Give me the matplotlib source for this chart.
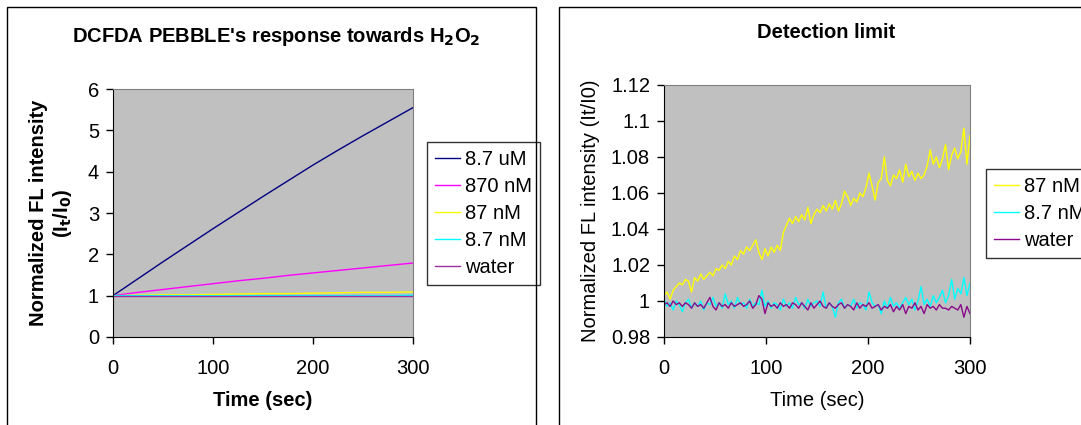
import numpy as np
import matplotlib
matplotlib.use("Agg")
import matplotlib.pyplot as plt
from matplotlib.patches import Rectangle

plt.rcParams["font.family"] = ["Liberation Sans", "DejaVu Sans"]

# ---------------- data: left panel (response towards H2O2) ----------------
t_left = [0, 25, 50, 75, 100, 125, 150, 175, 200, 225, 250, 275, 300]
left_series = ["8.7 uM", "870 nM", "87 nM", "8.7 nM", "water"]
uM_8_7 = [1.0, 1.41, 1.82, 2.22, 2.62, 3.01, 3.40, 3.78, 4.16, 4.52, 4.87, 5.21, 5.55]
nM_870 = [1.0, 1.08, 1.15, 1.22, 1.29, 1.36, 1.42, 1.49, 1.55, 1.61, 1.67, 1.73, 1.79]
nM_87_l = [1.0, 1.01, 1.02, 1.02, 1.03, 1.04, 1.05, 1.05, 1.06, 1.07, 1.08, 1.08, 1.09]
nM_8_7_l = [1.0, 1.0, 1.0, 1.0, 1.0, 1.0, 1.0, 1.0, 1.0, 1.0, 1.0, 1.0, 1.01]
water_l = [1.0, 1.0, 1.0, 1.0, 1.0, 1.0, 1.0, 1.0, 1.0, 1.0, 1.0, 1.0, 1.0]

# ---------------- data: right panel (detection limit), every 3 s ----------------
t_right = list(range(0, 301, 3))
nM_87 = [1.003, 1.005, 1.001, 1.006, 1.008, 1.010, 1.009, 1.012, 1.011, 1.005,
         1.013, 1.011, 1.015, 1.012, 1.014, 1.016, 1.014, 1.018, 1.017, 1.020,
         1.018, 1.022, 1.020, 1.025, 1.023, 1.028, 1.026, 1.030, 1.028, 1.031,
         1.034, 1.027, 1.023, 1.029, 1.025, 1.030, 1.027, 1.031, 1.028, 1.038,
         1.042, 1.046, 1.043, 1.047, 1.044, 1.048, 1.045, 1.052, 1.043, 1.048,
         1.051, 1.049, 1.053, 1.050, 1.054, 1.051, 1.056, 1.050, 1.054, 1.061,
         1.058, 1.053, 1.057, 1.055, 1.060, 1.058, 1.063, 1.071, 1.064, 1.056,
         1.066, 1.068, 1.080, 1.067, 1.064, 1.070, 1.068, 1.073, 1.066, 1.076,
         1.069, 1.072, 1.067, 1.071, 1.068, 1.070, 1.075, 1.084, 1.076, 1.080,
         1.074, 1.079, 1.087, 1.073, 1.081, 1.085, 1.079, 1.083, 1.096, 1.076,
         1.092]
nM_8_7 = [1.001, 0.997, 0.999, 0.995, 1.000, 0.998, 0.994, 0.999, 1.001, 0.996,
          0.999, 0.997, 1.000, 0.995, 0.999, 0.998, 1.002, 0.997, 0.999, 0.996,
          1.004, 0.998, 1.000, 0.996, 1.002, 0.998, 0.999, 0.996, 1.001, 0.997,
          0.999, 0.998, 1.006, 0.997, 1.000, 0.996, 0.999, 0.998, 0.995, 1.001,
          0.997, 0.999, 0.996, 1.002, 0.998, 0.999, 0.996, 1.001, 0.997, 0.999,
          1.000, 0.997, 1.005, 0.996, 0.999, 0.997, 0.991, 0.999, 1.001, 0.996,
          0.998, 0.997, 1.001, 0.996, 0.999, 0.998, 0.995, 1.005, 0.999, 0.997,
          0.998, 0.993, 1.000, 0.996, 1.002, 0.997, 0.999, 0.996, 0.999, 1.002,
          0.998, 1.001, 0.995, 1.000, 1.008, 0.998, 1.001, 0.997, 1.003, 0.999,
          1.002, 1.006, 0.999, 1.003, 1.012, 1.001, 1.007, 1.004, 1.013, 1.003,
          1.010]
water = [0.998, 0.999, 0.997, 1.000, 0.998, 0.999, 0.997, 0.999, 0.998, 0.996,
         0.999, 0.997, 0.998, 0.996, 0.999, 1.002, 0.997, 0.995, 0.999, 0.997,
         0.998, 0.996, 0.999, 0.997, 0.998, 0.999, 0.997, 0.998, 1.000, 0.996,
         0.998, 1.003, 1.001, 0.993, 0.999, 0.997, 0.998, 0.996, 0.999, 0.997,
         0.998, 0.996, 0.999, 0.998, 0.996, 0.999, 0.997, 0.995, 0.999, 0.996,
         0.998, 1.000, 0.997, 0.996, 0.999, 0.997, 0.996, 0.998, 0.999, 0.996,
         0.998, 0.997, 0.995, 0.999, 0.996, 0.998, 0.997, 0.999, 0.996, 0.997,
         0.998, 0.995, 0.997, 0.996, 0.998, 0.994, 0.997, 0.995, 0.998, 0.993,
         0.997, 0.996, 0.999, 0.995, 0.997, 0.993, 0.998, 0.996, 0.997, 0.995,
         0.998, 0.996, 0.996, 0.995, 0.997, 0.996, 0.995, 0.998, 0.991, 0.997,
         0.993]
right_series = ["87 nM", "8.7 nM", "water"]

W, H = 1081, 425
FS = 14.5
fig = plt.figure(figsize=(W / 100, H / 100), dpi=100)

def fx(px): return px / W
def fy(py): return 1 - py / H

# chart-area frames (cut off at the bottom/right like the reference)
fig.patches.append(Rectangle((fx(7), fy(440)), fx(529), fy(7) - fy(440),
                             transform=fig.transFigure, fill=False, ec="black", lw=1))
fig.patches.append(Rectangle((fx(559), fy(440)), fx(600), fy(7) - fy(440),
                             transform=fig.transFigure, fill=False, ec="black", lw=1))

def style(ax):
    ax.set_facecolor("#C0C0C0")
    for s in ("top", "right"):
        ax.spines[s].set_color("#808080")
    for s in ("left", "bottom"):
        ax.spines[s].set_color("black")
    ax.tick_params(direction="out", length=5, width=1, labelsize=FS)
    ax.tick_params(axis="x", pad=11)
    ax.tick_params(axis="y", pad=5)
    ax.set_xlim(0, 300)
    ax.set_xticks([0, 100, 200, 300])

def legend(ax, x, y):
    leg = ax.legend(loc="upper left", bbox_to_anchor=(fx(x), fy(y)),
                    bbox_transform=fig.transFigure, frameon=True, fancybox=False,
                    edgecolor="black", fontsize=FS, handlelength=1.25, handletextpad=0.25,
                    labelspacing=0.4, borderpad=0.4, borderaxespad=0)
    leg.get_frame().set_linewidth(1)

# ---------------- left ----------------
axL = fig.add_axes([fx(113), fy(337), fx(300), fy(89) - fy(337)])
style(axL)
colors_l = ["#000080", "#FF00FF", "#FFFF00", "#00FFFF", "#9B309B"]
for name, vals, c in zip(left_series, [uM_8_7, nM_870, nM_87_l, nM_8_7_l, water_l], colors_l):
    axL.plot(t_left, vals, color=c, lw=1, label=name)
axL.set_ylim(0, 6)
axL.set_yticks(range(0, 7))
axL.set_xlabel("Time (sec)", fontsize=FS, fontweight="bold", labelpad=9)
axL.set_ylabel("Normalized FL intensity\n(I$_\\mathbf{t}$/I$_\\mathbf{0}$)", fontsize=FS,
               fontweight="bold", labelpad=10, linespacing=1.15)
fig.text(fx(276), fy(36), "DCFDA PEBBLE's response towards H$_\\mathbf{2}$O$_\\mathbf{2}$",
         ha="center", va="center", fontsize=FS, fontweight="bold")
legend(axL, 427, 142)

# ---------------- right ----------------
axR = fig.add_axes([fx(664), fy(337), fx(306), fy(85) - fy(337)])
style(axR)
colors_r = ["#FFFF00", "#00FFFF", "#8B0A8B"]
for name, vals, c in zip(right_series, [nM_87, nM_8_7, water], colors_r):
    axR.plot(t_right, vals, color=c, lw=1, label=name)
axR.set_ylim(0.98, 1.12)
axR.set_yticks([0.98, 1.0, 1.02, 1.04, 1.06, 1.08, 1.1, 1.12])
axR.set_yticklabels(["0.98", "1", "1.02", "1.04", "1.06", "1.08", "1.1", "1.12"])
axR.set_xlabel("Time (sec)", fontsize=FS, labelpad=9)
axR.set_ylabel("Normalized FL intensity (It/I0)", fontsize=FS, labelpad=8)
fig.text(fx(826), fy(32), "Detection limit", ha="center", va="center",
         fontsize=FS, fontweight="bold")
legend(axR, 986, 169)

fig.savefig("out.png", dpi=100)
